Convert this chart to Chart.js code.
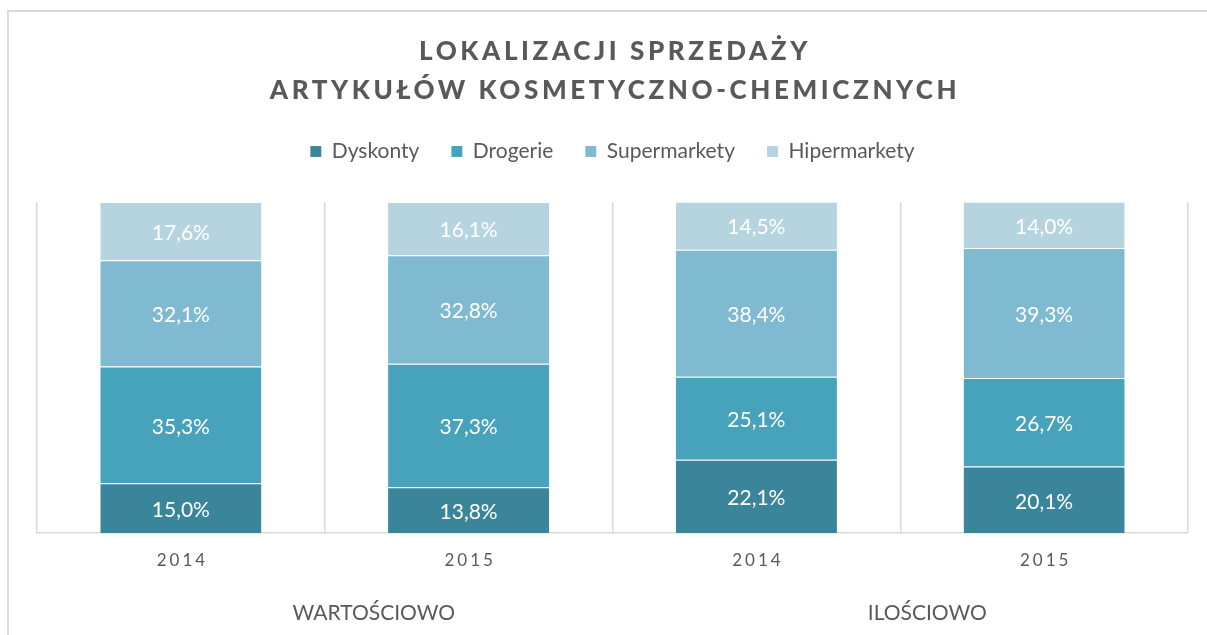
<!DOCTYPE html>
<html lang="pl">
<head>
    <meta charset="UTF-8">
    <title>Lokalizacji sprzedaży artykułów kosmetyczno-chemicznych</title>
    <script src="https://cdn.jsdelivr.net/npm/chart.js"></script>
    <style>
        body {
            margin: 0;
            overflow: hidden;
            background: #fff;
        }
        #frame {
            position: absolute;
            left: 7px;
            top: 10px;
            width: 1230px;
            height: 660px;
            border-left: 2px solid #dadada;
            border-top: 2px solid #dadada;
        }
        #chart {
            position: absolute;
            left: 0;
            top: 0;
        }
    </style>
</head>
<body>
    <div id="frame">
        <canvas id="chart" width="1208" height="623"></canvas>
    </div>

    <script>
        const titleLines = ['LOKALIZACJI SPRZEDAŻY', 'ARTYKUŁÓW KOSMETYCZNO-CHEMICZNYCH'];
        const categories = ['2014', '2015', '2014', '2015'];
        const groups = ['WARTOŚCIOWO', 'ILOŚCIOWO'];
        const seriesNames = ['Dyskonty', 'Drogerie', 'Supermarkety', 'Hipermarkety'];
        const dyskonty = [15.0, 13.8, 22.1, 20.1];
        const drogerie = [35.3, 37.3, 25.1, 26.7];
        const supermarkety = [32.1, 32.8, 38.4, 39.3];
        const hipermarkety = [17.6, 16.1, 14.5, 14.0];
        const colors = ['#3a8599', '#47a2bb', '#7fbad0', '#b6d4df'];

        const textColor = '#595959';
        const fontFamily = 'Lato, "Open Sans", sans-serif';

        // make room between legend and plot area
        const legendSpace = {
            id: 'legendSpace',
            beforeInit(chart) {
                const fit = chart.legend.fit;
                chart.legend.fit = function() {
                    fit.bind(chart.legend)();
                    this.height += 30;
                };
            }
        };

        // values in the middle of every segment
        const segmentLabels = {
            id: 'segmentLabels',
            afterDatasetsDraw(chart) {
                const ctx = chart.ctx;
                ctx.save();
                ctx.font = '21px ' + fontFamily;
                ctx.fillStyle = '#ffffff';
                ctx.textAlign = 'center';
                ctx.textBaseline = 'middle';
                chart.data.datasets.forEach(function(ds, i) {
                    chart.getDatasetMeta(i).data.forEach(function(bar, j) {
                        const y = (bar.y + bar.base) / 2 + 2;
                        ctx.fillText(ds.data[j].toFixed(1).replace('.', ',') + '%', bar.x, y);
                    });
                });
                ctx.restore();
            }
        };

        // title, spaced tick labels and group labels
        const spacedTexts = {
            id: 'spacedTexts',
            afterDraw(chart) {
                const ctx = chart.ctx;
                const xScale = chart.scales.x;
                const cx = chart.width / 2;
                ctx.save();
                ctx.fillStyle = textColor;
                ctx.textAlign = 'center';
                ctx.textBaseline = 'middle';

                ctx.font = '900 26px ' + fontFamily;
                ctx.letterSpacing = '3.6px';
                ctx.fillText(titleLines[0], cx + 2, 40);
                ctx.fillText(titleLines[1], cx + 2, 79);

                ctx.font = '17px ' + fontFamily;
                ctx.letterSpacing = '3px';
                categories.forEach(function(c, i) {
                    ctx.fillText(c, xScale.getPixelForValue(i) + 1.5, xScale.bottom + 28);
                });

                ctx.font = '21px ' + fontFamily;
                ctx.letterSpacing = '0px';
                const shift = [49, 27];
                groups.forEach(function(g, k) {
                    const mid = (xScale.getPixelForValue(2 * k) + xScale.getPixelForValue(2 * k + 1)) / 2;
                    ctx.fillText(g, mid + shift[k], xScale.bottom + 80);
                });
                ctx.restore();
            }
        };

        const seriesValues = [dyskonty, drogerie, supermarkety, hipermarkety];

        const chart = new Chart(document.getElementById('chart'), {
            type: 'bar',
            data: {
                labels: categories,
                datasets: seriesNames.map(function(name, i) {
                    return {
                        label: name,
                        data: seriesValues[i],
                        backgroundColor: colors[i],
                        borderColor: 'rgba(255,255,255,0.35)',
                        borderWidth: { top: 1 },
                        borderSkipped: false,
                        barPercentage: 0.56,
                        categoryPercentage: 1
                    };
                })
            },
            options: {
                responsive: false,
                animation: false,
                layout: {
                    padding: { top: 97, left: 28, right: 29, bottom: 102 }
                },
                plugins: {
                    legend: {
                        position: 'top',
                        labels: {
                            color: textColor,
                            font: { family: fontFamily, size: 21 },
                            boxWidth: 11,
                            boxHeight: 11,
                            padding: 32
                        }
                    },
                    tooltip: { enabled: false }
                },
                scales: {
                    x: {
                        stacked: true,
                        grid: {
                            color: '#d9d9d9',
                            lineWidth: 1.5,
                            drawTicks: false
                        },
                        border: { color: '#d9d9d9', width: 1.5 },
                        ticks: { display: false }
                    },
                    y: {
                        stacked: true,
                        display: false,
                        min: 0,
                        max: 100
                    }
                }
            },
            plugins: [legendSpace, segmentLabels, spacedTexts]
        });
    </script>
</body>
</html>
